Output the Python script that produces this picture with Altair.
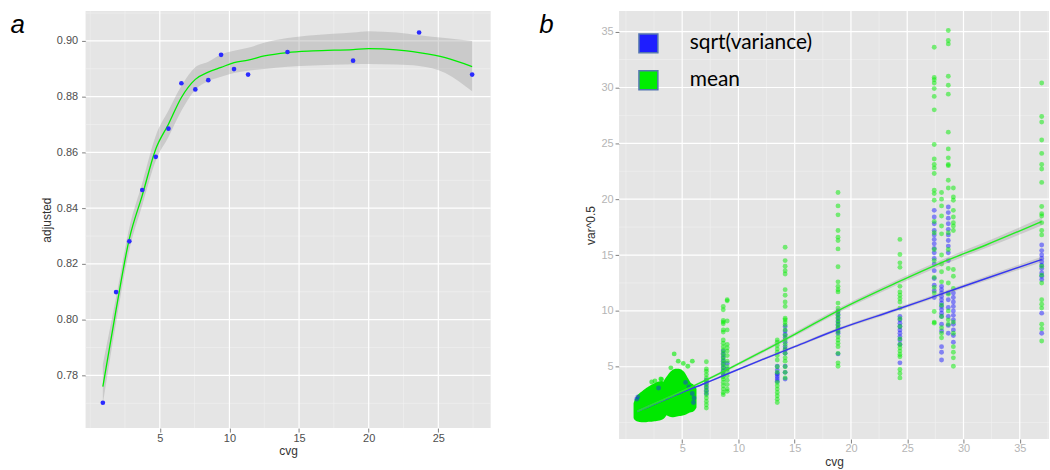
import altair as alt
import pandas as pd

FONT = "Liberation Sans"
PANEL_BG = "#e5e5e5"
GREEN = "#00ee00"
BLUE = "#2b2bff"

# ---------------- panel a ----------------
a_cvg = [0.91, 1.86, 2.81, 3.74, 4.71, 5.62, 6.55, 7.55, 8.48, 9.40, 10.33, 11.34, 14.17, 18.88, 23.62, 27.43]
a_adjusted = [0.7702, 0.8099, 0.8281, 0.8465, 0.8584, 0.8685, 0.8848, 0.8826, 0.8859, 0.8950,
              0.8899, 0.8879, 0.8960, 0.8929, 0.9030, 0.8879]

a_fit_cvg = [0.91, 1.86, 2.81, 3.74, 4.71, 5.62, 6.55, 7.55, 8.48, 9.40, 10.33, 11.34, 12.5,
             14.17, 16.0, 18.88, 20.0, 22.0, 23.62, 25.5, 27.43]
a_fit = [0.7760, 0.8036, 0.8290, 0.8446, 0.8612, 0.8701, 0.8797, 0.8862, 0.8888, 0.8905, 0.8922,
         0.8931, 0.8946, 0.8958, 0.8964, 0.8969, 0.8972, 0.8968, 0.8958, 0.8940, 0.8908]
a_fit_lo = [0.7700, 0.7990, 0.8250, 0.8410, 0.8570, 0.8655, 0.8749, 0.8825, 0.8855, 0.8871, 0.8885,
            0.8893, 0.8899, 0.8907, 0.8912, 0.8916, 0.8917, 0.8915, 0.8910, 0.8885, 0.8819]
a_fit_hi = [0.7840, 0.8080, 0.8330, 0.8490, 0.8660, 0.8750, 0.8838, 0.8905, 0.8925, 0.8952, 0.8965,
            0.8975, 0.8993, 0.9010, 0.9020, 0.9030, 0.9035, 0.9030, 0.9020, 0.9010, 0.9000]

a_xticks = [5, 10, 15, 20, 25]
a_xminor = [0, 2.5, 7.5, 12.5, 17.5, 22.5, 27.5]
a_yticks = [0.78, 0.80, 0.82, 0.84, 0.86, 0.88, 0.90]
a_yminor = [0.77, 0.79, 0.81, 0.83, 0.85, 0.87, 0.89, 0.91]

# ---------------- panel b ----------------
b_series = ["sqrt(variance)", "mean"]
b_cols = [7.15, 8.65, 9.0, 13.45, 14.15, 18.85, 24.35, 27.4, 28.05, 28.65, 29.1, 36.95]
b_mean = [
    [5.45, 4.8, 4.6, 4.3, 4.0, 3.7, 3.4, 3.1, 2.8, 2.5, 2.2, 1.9, 1.6, 1.3],
    [10.4, 10.1, 9.15, 9.0, 8.85, 8.3, 8.1, 7.4, 7.1, 6.8, 6.5, 6.2, 5.9, 5.6, 5.3, 5.0, 4.7, 4.4,
     4.1, 3.9, 3.6, 3.3, 3.0, 2.7, 2.5],
    [11.0, 10.9, 9.1, 8.3, 7.0, 6.7, 6.4, 6.0, 5.5, 5.0, 4.6, 4.2, 3.8, 3.4, 3.0, 2.8],
    [7.4, 7.2, 6.9, 6.6, 6.3, 6.0, 5.6, 5.0, 4.5, 3.6, 3.3, 3.0, 2.7, 2.4, 2.1, 1.8],
    [15.7, 14.5, 14.0, 13.6, 13.3, 11.9, 11.4, 10.8, 10.4, 9.35, 9.2, 9.0, 8.75, 8.3, 7.8, 7.4, 7.0,
     6.6, 6.2, 5.8, 5.5, 5.0, 4.5, 4.0],
    [20.6, 19.4, 18.6, 17.2, 16.6, 16.3, 15.55, 13.95, 12.6, 12.2, 11.9, 11.7, 10.7, 10.25, 9.9, 9.6,
     9.3, 9.0, 8.7, 8.4, 8.1, 7.7, 7.4, 7.1, 6.8, 6.2, 5.35, 5.05],
    [16.4, 15.05, 14.3, 13.9, 12.2, 11.7, 11.4, 11.1, 10.8, 10.25, 9.3, 8.6, 7.5, 7.0, 6.7, 6.4, 6.1,
     5.9, 4.75, 4.4, 4.0],
    [33.6, 30.9, 30.7, 30.4, 29.9, 29.2, 28.0, 24.9, 23.6, 23.1, 22.8, 22.3, 20.8, 20.5, 19.9, 18.0,
     17.0, 15.5, 14.5, 13.0, 12.1, 11.6, 9.95, 9.0, 8.9],
    [20.6, 20.0, 19.4, 18.5, 17.6, 16.9, 15.0, 14.2, 13.5, 12.6, 10.5, 9.5, 8.5, 8.0, 7.6],
    [35.1, 34.2, 33.9, 31.0, 30.2, 29.4, 26.0, 24.5, 23.7, 23.1, 23.0, 21.7, 21.0, 17.0, 15.5, 13.8,
     12.5, 11.5, 10.0, 9.2, 8.8],
    [21.0, 20.2, 19.9, 19.0, 18.4, 17.9, 17.6, 17.2, 13.7, 13.1, 12.0, 9.0, 8.0, 6.8, 6.3, 5.8, 5.05],
    [30.4, 27.4, 26.9, 25.3, 24.1, 23.1, 22.7, 21.5, 19.35, 18.7, 18.5, 17.9, 17.2, 16.8, 14.0, 13.2,
     12.5, 11.0, 10.6, 10.25, 8.8, 8.4, 7.3],
]
b_sd = [
    [3.8, 3.5, 3.2, 2.9, 2.6],
    [6.4, 6.1, 5.8, 5.5, 5.2, 4.9, 4.6, 4.3],
    [5.3, 4.8],
    [5.05, 4.7, 4.4, 4.1, 3.9, 3.7, 4.3],
    [8.6, 8.2, 7.9, 7.6, 7.2, 6.8, 6.5, 6.2, 5.05, 4.5, 3.9],
    [10.0, 9.7, 9.4, 9.1, 8.8, 8.5, 8.2, 8.0, 6.15],
    [9.5, 9.2, 8.9, 8.6, 8.3, 8.0, 7.7, 7.4, 7.0, 5.35],
    [19.0, 18.4, 17.8, 17.2, 16.8, 16.4, 16.0, 15.6, 15.2, 14.7, 14.2, 13.6, 12.9, 12.3, 11.8, 11.2],
    [12.2, 11.9, 11.6, 11.3, 11.0, 10.7, 10.4, 10.1, 9.8, 9.5, 8.8, 8.2, 6.8, 6.3, 5.6],
    [19.3, 18.8, 18.3, 17.8, 17.3, 16.8, 16.3, 15.8, 15.2, 14.5, 11.6, 11.0, 10.3, 9.5, 8.7, 8.0],
    [11.6, 11.2, 10.8, 10.4, 10.0, 9.6, 9.2, 8.8, 8.3, 7.8, 7.2],
    [15.9, 15.4, 15.0, 14.7, 14.4, 14.1, 13.8, 13.4, 13.1, 12.8, 9.8, 8.0],
]

# dense cloud of low-coverage samples (two lobes), outline
blob1_cvg = [0.9, 1.1, 1.4, 1.7, 2.0, 2.3, 2.6, 2.9, 3.2, 3.45]
blob1_lo = [0.45, 0.3, 0.25, 0.25, 0.3, 0.3, 0.35, 0.4, 0.5, 0.8]
blob1_hi = [1.7, 2.2, 2.5, 2.75, 2.95, 3.15, 3.3, 3.45, 3.5, 3.0]
blob2_cvg = [3.55, 3.8, 4.1, 4.4, 4.7, 5.0, 5.3, 5.6, 5.9, 6.05]
blob2_lo = [1.0, 0.8, 0.7, 0.75, 0.8, 0.85, 0.95, 1.1, 1.2, 1.4]
blob2_hi = [3.6, 4.0, 4.4, 4.6, 4.6, 4.4, 3.9, 3.4, 3.2, 3.0]
blob_out_cvg = [2.29, 2.58, 3.17, 3.99, 4.29, 4.65, 5.1, 5.5, 5.9, 3.1]
blob_out_val = [3.63, 3.72, 3.87, 4.9, 6.15, 5.5, 5.3, 5.05, 5.5, 3.9]
blob_blue_cvg = [0.95, 1.05, 2.9, 5.3, 5.6, 5.9, 6.05, 6.0]
blob_blue_val = [2.1, 2.3, 3.1, 3.6, 3.2, 2.6, 2.2, 1.8]

b_fit_cvg = [1.0, 3.0, 5.0, 7.0, 9.0, 12.0, 15.0, 19.0, 24.0, 28.0, 32.0, 36.95]
b_fit_mean = [1.0, 1.9, 2.8, 3.75, 4.75, 6.3, 7.9, 10.1, 12.5, 14.3, 15.9, 18.0]
b_fit_mean_lo = [0.9, 1.8, 2.7, 3.65, 4.63, 6.15, 7.72, 9.9, 12.28, 14.05, 15.62, 17.65]
b_fit_mean_hi = [1.1, 2.0, 2.9, 3.85, 4.87, 6.45, 8.08, 10.3, 12.72, 14.55, 16.18, 18.35]
b_fit_sd = [1.0, 1.85, 2.7, 3.5, 4.35, 5.6, 6.8, 8.4, 10.1, 11.5, 12.9, 14.6]
b_fit_sd_lo = [0.92, 1.78, 2.63, 3.43, 4.27, 5.5, 6.68, 8.27, 9.95, 11.33, 12.7, 14.35]
b_fit_sd_hi = [1.08, 1.92, 2.77, 3.57, 4.43, 5.7, 6.92, 8.53, 10.25, 11.67, 13.1, 14.85]

b_xticks = [5, 10, 15, 20, 25, 30, 35]
b_xminor = [0, 2.5, 7.5, 12.5, 17.5, 22.5, 27.5, 32.5, 37.5]
b_yticks = [5, 10, 15, 20, 25, 30, 35]
b_yminor = [0, 2.5, 7.5, 12.5, 17.5, 22.5, 27.5, 32.5]


def axis(values, label_color, fmt=None, label_pad=2):
    kw = dict(values=values, grid=False, domain=False, tickColor="#7f7f7f", tickSize=4,
              labelColor=label_color, labelFontSize=11, labelFont=FONT, titleFont=FONT,
              titleFontSize=12, titleFontWeight="normal", titleColor="#333333",
              labelPadding=label_pad, titlePadding=3)
    if fmt:
        kw["format"] = fmt
    return alt.Axis(**kw)


def grid(X, Y, xmaj, xmin, ymaj, ymin):
    minor_col, major_col = "#f2f2f2", "#ffffff"
    lay = []
    lay.append(alt.Chart(pd.DataFrame({"v": xmin})).mark_rule(color=minor_col, strokeWidth=0.6)
               .encode(x=X("v")))
    lay.append(alt.Chart(pd.DataFrame({"v": ymin})).mark_rule(color=minor_col, strokeWidth=0.6)
               .encode(y=Y("v")))
    lay.append(alt.Chart(pd.DataFrame({"v": xmaj})).mark_rule(color=major_col, strokeWidth=1.2)
               .encode(x=X("v")))
    lay.append(alt.Chart(pd.DataFrame({"v": ymaj})).mark_rule(color=major_col, strokeWidth=1.2)
               .encode(y=Y("v")))
    return lay


def panel_label(text, offset):
    return alt.TitleParams(text, orient="left", anchor="end", angle=0, align="right",
                           baseline="alphabetic", dy=23, offset=offset, fontStyle="italic",
                           fontSize=26, font=FONT, fontWeight="normal", color="#000000")


# ---- panel a chart ----
xs_a = alt.Scale(domain=[-0.33, 28.76], nice=False, zero=False)
ys_a = alt.Scale(domain=[0.7611, 0.9107], nice=False, zero=False)
ax_a_x = axis(a_xticks, "#4d4d4d", label_pad=0)
ax_a_y = axis(a_yticks, "#4d4d4d", ".2f", label_pad=4)


def ax_(field):
    return alt.X(field, type="quantitative", scale=xs_a, axis=ax_a_x, title="cvg")


def ay_(field):
    return alt.Y(field, type="quantitative", scale=ys_a, axis=ax_a_y, title="adjusted")


fit_a = pd.DataFrame({"cvg": a_fit_cvg, "fit": a_fit, "lo": a_fit_lo, "hi": a_fit_hi})
pts_a = pd.DataFrame({"cvg": a_cvg, "adjusted": a_adjusted})

ribbon_a = alt.Chart(fit_a).mark_area(color="#999999", opacity=0.35, interpolate="monotone").encode(
    x=ax_("cvg"), y=ay_("lo"), y2="hi:Q")
line_a = alt.Chart(fit_a).mark_line(color=GREEN, strokeWidth=1.3, interpolate="monotone").encode(
    x=ax_("cvg"), y=ay_("fit"))
points_a = alt.Chart(pts_a).mark_circle(color=BLUE, size=22, opacity=1).encode(
    x=ax_("cvg"), y=ay_("adjusted"))

panel_a = alt.layer(*grid(ax_, ay_, a_xticks, a_xminor, a_yticks, a_yminor),
                    ribbon_a, line_a, points_a).properties(
    width=407, height=419, title=panel_label("a", 1))

# ---- panel b chart ----
xs_b = alt.Scale(domain=[-0.61, 37.6], nice=False, zero=False)
ys_b = alt.Scale(domain=[-1.47, 36.84], nice=False, zero=False)
ax_b_x = axis(b_xticks, "#b5b5b5", label_pad=0)
ax_b_y = axis(b_yticks, "#b5b5b5", label_pad=2)

rows = []
for c, vals in zip(b_cols, b_sd):
    for v in vals:
        rows.append({"cvg": c, "val": v, "series": b_series[0]})
for c, vals in zip(b_cols, b_mean):
    for v in vals:
        rows.append({"cvg": c, "val": v, "series": b_series[1]})
pts_b = pd.DataFrame(rows)

blob1 = pd.DataFrame({"cvg": blob1_cvg, "lo": blob1_lo, "hi": blob1_hi})
blob2 = pd.DataFrame({"cvg": blob2_cvg, "lo": blob2_lo, "hi": blob2_hi})
blob_out = pd.DataFrame({"cvg": blob_out_cvg, "val": blob_out_val})
blob_blue = pd.DataFrame({"cvg": blob_blue_cvg, "val": blob_blue_val})
fit_b = pd.DataFrame({"cvg": b_fit_cvg, "mean": b_fit_mean, "mlo": b_fit_mean_lo, "mhi": b_fit_mean_hi,
                      "sd": b_fit_sd, "slo": b_fit_sd_lo, "shi": b_fit_sd_hi})


def bx(field):
    return alt.X(field, type="quantitative", scale=xs_b, axis=ax_b_x, title="cvg")


def by(field):
    return alt.Y(field, type="quantitative", scale=ys_b, axis=ax_b_y, title="var^0.5")


points_b = alt.Chart(pts_b).mark_circle(size=24, opacity=0.5, clip=True).encode(
    x=bx("cvg"), y=by("val"),
    color=alt.Color("series:N", scale=alt.Scale(domain=b_series, range=["#1e1eff", "#00ee00"]),
                    sort=b_series,
                    legend=alt.Legend(orient="none", legendX=555, legendY=22, title=None,
                                      symbolType="square", symbolSize=361, symbolOpacity=1,
                                      symbolStrokeColor="#5576b0", symbolStrokeWidth=1.5,
                                      labelFont="Lato", labelFontSize=21, labelColor="#000000",
                                      labelOffset=31, rowPadding=12, padding=0)),
)
blob_layers = []
for df in (blob1, blob2):
    blob_layers.append(alt.Chart(df).mark_area(color="#00e800", opacity=1, stroke="#00e800",
                                               strokeWidth=5, strokeJoin="round",
                                               interpolate="monotone").encode(
        x=bx("cvg"), y=by("lo"), y2="hi"))
blob_out_layer = alt.Chart(blob_out).mark_circle(color="#00ee00", size=24, opacity=0.6).encode(
    x=bx("cvg"), y=by("val"))
blob_blue_layer = alt.Chart(blob_blue).mark_circle(color="#1e1eff", size=24, opacity=0.45).encode(
    x=bx("cvg"), y=by("val"))

rib_m = alt.Chart(fit_b).mark_area(color="#999999", opacity=0.35, interpolate="monotone").encode(
    x=bx("cvg"), y=by("mlo"), y2="mhi")
rib_s = alt.Chart(fit_b).mark_area(color="#999999", opacity=0.35, interpolate="monotone").encode(
    x=bx("cvg"), y=by("slo"), y2="shi")
line_s = alt.Chart(fit_b).mark_line(color="#3636f0", strokeWidth=1.4, interpolate="monotone").encode(
    x=bx("cvg"), y=by("sd"))
line_m = alt.Chart(fit_b).mark_line(color="#22ee22", strokeWidth=1.4, interpolate="monotone").encode(
    x=bx("cvg"), y=by("mean"))

panel_b = alt.layer(*grid(bx, by, b_xticks, b_xminor, b_yticks, b_yminor),
                    points_b, *blob_layers, blob_out_layer, blob_blue_layer,
                    rib_s, rib_m, line_s, line_m).properties(
    width=432, height=430, title=panel_label("b", 17))

chart = alt.hconcat(panel_a, panel_b, spacing=47).properties(
    padding={"left": 10, "top": 9, "right": 0, "bottom": 0},
    background="#ffffff",
).configure_view(fill=PANEL_BG, strokeWidth=0).configure_concat(spacing=47)

chart.save("out.html", embed_options={"renderer": "svg", "actions": False})
